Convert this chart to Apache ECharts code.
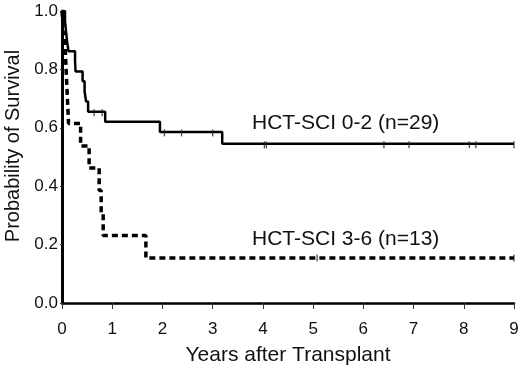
<!DOCTYPE html>
<html>
<head>
<meta charset="utf-8">
<script src="https://cdn.jsdelivr.net/npm/echarts@6/dist/echarts.min.js"></script>
<style>
  html, body { margin: 0; padding: 0; background: #fff; }
  #chart { width: 520px; height: 367px; }
</style>
</head>
<body>
<div id="chart"></div>
<script>
// Kaplan-Meier steps: [years, survival] — value drops to 'survival' at 'years'
var lowRisk = [
  [0, 1.0], [0.06, 0.966], [0.08, 0.931], [0.10, 0.897], [0.13, 0.862],
  [0.26, 0.828], [0.27, 0.793], [0.41, 0.759], [0.45, 0.724], [0.48, 0.690],
  [0.52, 0.655], [0.86, 0.621], [1.95, 0.586], [3.19, 0.545], [9.0, 0.545]
];
var highRisk = [
  [0, 1.0], [0.03, 0.923], [0.07, 0.846], [0.09, 0.769], [0.11, 0.692],
  [0.13, 0.615], [0.37, 0.538], [0.54, 0.462], [0.74, 0.385], [0.78, 0.308],
  [0.82, 0.231], [1.67, 0.154], [9.0, 0.154]
];
// censor marks
var lowCensor = [
  [0.64, 0.655], [0.80, 0.655], [2.04, 0.586], [2.38, 0.586], [3.0, 0.586],
  [4.03, 0.545], [4.07, 0.545], [6.41, 0.545], [6.91, 0.545], [8.11, 0.545],
  [8.24, 0.545], [9.0, 0.545]
];
var highCensor = [[5.08, 0.154], [9.0, 0.154]];
var xTicks = [0, 1, 2, 3, 4, 5, 6, 7, 8, 9];
var yTicks = [0, 0.2, 0.4, 0.6, 0.8, 1.0];
var labelLow = 'HCT-SCI 0-2 (n=29)';
var labelHigh = 'HCT-SCI 3-6 (n=13)';
var yTitle = 'Probability of Survival';

var font = 'Liberation Sans, Arial, sans-serif';
var chart = echarts.init(document.getElementById('chart'), null, { renderer: 'canvas' });

chart.setOption({
  animation: false,
  backgroundColor: '#fff',
  grid: { left: 62, right: 6, top: 11, bottom: 64, containLabel: false, outerBoundsMode: 'none' },
  xAxis: {
    type: 'value',
    min: xTicks[0], max: xTicks[xTicks.length - 1], interval: 1,
    name: 'Years after Transplant',
    nameLocation: 'middle', nameGap: 42,
    nameTextStyle: { fontFamily: font, fontSize: 21, color: '#111' },
    axisLine: { lineStyle: { color: '#000', width: 2.5 } },
    axisTick: { show: true, length: 6, lineStyle: { color: '#333', width: 1 } },
    axisLabel: { fontFamily: font, fontSize: 17, color: '#111', margin: 18 },
    splitLine: { show: false }
  },
  yAxis: {
    type: 'value',
    min: yTicks[0], max: yTicks[yTicks.length - 1], interval: 0.2,
    axisLine: { show: true, lineStyle: { color: '#000', width: 3 } },
    axisTick: { show: true, length: 2, lineStyle: { color: '#333' } },
    axisLabel: {
      fontFamily: font, fontSize: 17, color: '#111', margin: 4,
      formatter: function (v) { return v.toFixed(1); }
    },
    splitLine: { show: false }
  },
  series: [
    {
      type: 'line', data: lowRisk, step: 'end', symbol: 'none',
      lineStyle: { color: '#000', width: 2.5 }, z: 3
    },
    {
      type: 'line', data: highRisk, step: 'end', symbol: 'none',
      lineStyle: { color: '#000', width: 3.5, type: [6, 4] }, z: 3
    },
    {
      type: 'scatter', data: lowCensor, symbol: 'rect', symbolSize: [1.3, 7],
      symbolOffset: [0, 1], itemStyle: { color: '#222' }, z: 4
    },
    {
      type: 'scatter', data: highCensor, symbol: 'rect', symbolSize: [1.3, 7],
      itemStyle: { color: '#222' }, z: 4
    }
  ],
  graphic: [
    {
      type: 'text', x: 13, y: 146, rotation: Math.PI / 2,
      style: { text: yTitle, font: '20px ' + font, fill: '#111', align: 'center', verticalAlign: 'middle' }
    },
    {
      type: 'text', left: 252, top: 113,
      style: { text: labelLow, font: '21px ' + font, fill: '#111' }
    },
    {
      type: 'text', left: 252, top: 229,
      style: { text: labelHigh, font: '21px ' + font, fill: '#111' }
    }
  ]
});
</script>
</body>
</html>
